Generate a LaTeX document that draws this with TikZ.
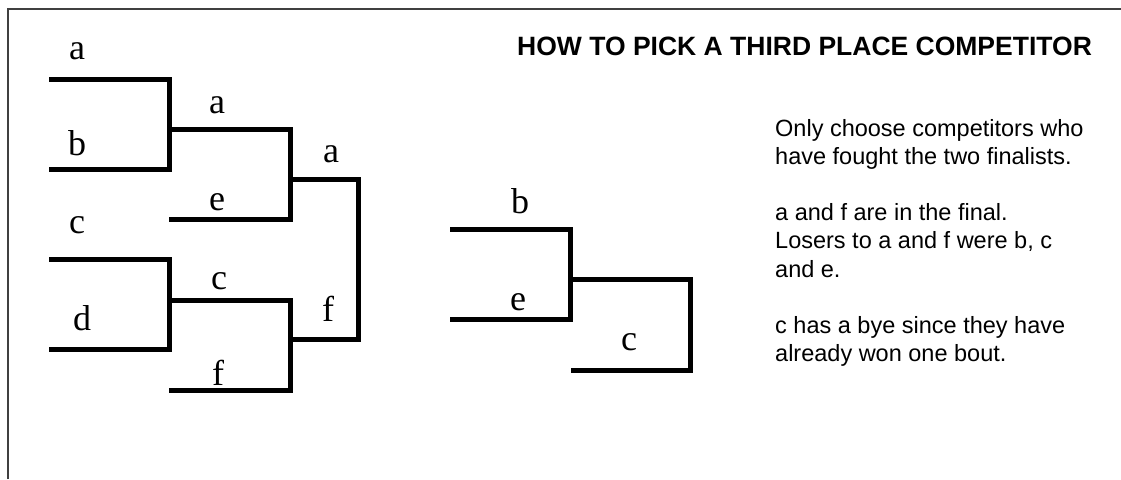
\documentclass[tikz,border=0pt]{standalone}
\usepackage{fontspec}
\setmainfont{Liberation Serif}
\newfontfamily\arialfont{Liberation Sans}
\begin{document}
\begin{tikzpicture}[x=1pt,y=-1pt,
  bracket/.style={line width=5pt,black,line join=miter},
  lbl/.style={anchor=base,inner sep=0pt,font=\fontsize{36}{40}\selectfont},
  frameline/.style={line width=1.5pt,black!75}]
\useasboundingbox (0,0) rectangle (1121,479);
% frame
\coordinate (fbl) at (8,479);
\coordinate (ftl) at (8,9);
\coordinate (ftr) at (1121,9);
\draw[frameline] (fbl) -- (ftl) -- (ftr);

% ---- main bracket ----
\coordinate (A1) at (49,79);   \coordinate (A1e) at (169,79);
\coordinate (B1) at (49,169);  \coordinate (B1e) at (169,169);
\coordinate (C1) at (49,259);  \coordinate (C1e) at (169,259);
\coordinate (D1) at (49,349);  \coordinate (D1e) at (169,349);
\coordinate (A2) at (169,129); \coordinate (A2e) at (290,129);
\coordinate (E2) at (169,219); \coordinate (E2e) at (290,219);
\coordinate (C2) at (169,300); \coordinate (C2e) at (290,300);
\coordinate (F2) at (169,390); \coordinate (F2e) at (290,390);
\coordinate (A3) at (290,179); \coordinate (A3e) at (358,179);
\coordinate (F3) at (290,339); \coordinate (F3e) at (358,339);
\draw[bracket] (A1) -- (A1e) -- (B1e) -- (B1);
\draw[bracket] (C1) -- (C1e) -- (D1e) -- (D1);
\draw[bracket] (A2) -- (A2e) -- (E2e) -- (E2);
\draw[bracket] (C2) -- (C2e) -- (F2e) -- (F2);
\draw[bracket] (A3) -- (A3e) -- (F3e) -- (F3);

\node[lbl] (la1) at (77,59) {a};
\node[lbl] (lb1) at (77,155) {b};
\node[lbl] (lc1) at (77,233) {c};
\node[lbl] (ld1) at (82,330) {d};
\node[lbl] (la2) at (217,113) {a};
\node[lbl] (le2) at (217,210) {e};
\node[lbl] (lc2) at (219,289) {c};
\node[lbl] (lf2) at (218,385) {f};
\node[lbl] (la3) at (331,162) {a};
\node[lbl] (lf3) at (328,321) {f};

% ---- third place bracket ----
\coordinate (Bt) at (450,229); \coordinate (Bte) at (570,229);
\coordinate (Et) at (450,319); \coordinate (Ete) at (570,319);
\coordinate (Mt) at (570,279); \coordinate (Mte) at (690,279);
\coordinate (Ct) at (571,370); \coordinate (Cte) at (690,370);
\draw[bracket] (Bt) -- (Bte) -- (Ete) -- (Et);
\draw[bracket] (Mt) -- (Mte) -- (Cte) -- (Ct);
\node[lbl] (lbt) at (520,213) {b};
\node[lbl] (let) at (518,310) {e};
\node[lbl] (lct) at (629,350) {c};

% ---- texts ----
\node[anchor=base west,inner sep=0pt,font=\arialfont\bfseries\fontsize{26.5}{30}\selectfont] (title) at (517,55) {HOW TO PICK A THIRD PLACE COMPETITOR};
\node[anchor=base west,inner sep=0pt,align=left,font=\arialfont\fontsize{23.5}{28.1}\selectfont] (body) at (775,361.3)
 {Only choose competitors who\\have fought the two finalists.\\[28.1pt]
  a and f are in the final.\\Losers to a and f were b, c\\and e.\\[28.1pt]
  c has a bye since they have\\already won one bout.};
\end{tikzpicture}
\end{document}
